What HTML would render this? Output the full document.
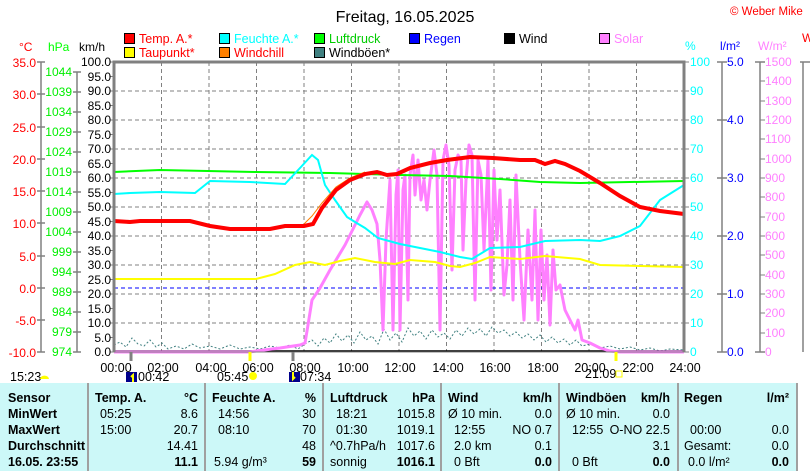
<!DOCTYPE html>
<html><head><meta charset="utf-8"><style>
body{margin:0;width:810px;height:471px;overflow:hidden;background:#fff;font-family:"Liberation Sans",sans-serif;position:relative}
.t{position:absolute;font-size:12.5px;white-space:nowrap;line-height:14px}
.b{font-weight:bold}
.r{text-align:right}
</style></head><body>
<svg width="810" height="471" style="position:absolute;left:0;top:0" font-family="Liberation Sans, sans-serif">
<text x="405" y="22" font-size="16" text-anchor="middle">Freitag, 16.05.2025</text>
<text x="730" y="15" font-size="11.5" fill="#f00">© Weber Mike</text>
<!-- legend -->
<g font-size="12.5" stroke="#000" stroke-width="1">
<rect x="124.5" y="33.5" width="10" height="10" fill="#f00"/><rect x="124.5" y="47.5" width="10" height="10" fill="#ff0"/>
<rect x="219.5" y="33.5" width="10" height="10" fill="#0ff"/><rect x="219.5" y="47.5" width="10" height="10" fill="#ff8000"/>
<rect x="314.5" y="33.5" width="10" height="10" fill="#0f0"/><rect x="314.5" y="47.5" width="10" height="10" fill="#408080"/>
<rect x="409.5" y="33.5" width="10" height="10" fill="#00f"/>
<rect x="504.5" y="33.5" width="10" height="10" fill="#000"/>
<rect x="599.5" y="33.5" width="10" height="10" fill="#ff80ff"/>
</g>
<g font-size="12.5" stroke="none">
<text x="139" y="43" fill="#f00">Temp. A.*</text><text x="139" y="57" fill="#f00">Taupunkt*</text>
<text x="234" y="43" fill="#0ff">Feuchte A.*</text><text x="234" y="57" fill="#f00">Windchill</text>
<text x="329" y="43" fill="#0c0">Luftdruck</text><text x="329" y="57" fill="#000">Windböen*</text>
<text x="424" y="43" fill="#00f">Regen</text>
<text x="519" y="43" fill="#000">Wind</text>
<text x="614" y="43" fill="#ff80ff">Solar</text>
</g>
<!-- units -->
<g font-size="12">
<text x="19" y="51" fill="#f00">°C</text><text x="48" y="51" fill="#0f0">hPa</text><text x="79" y="51" fill="#000">km/h</text>
<text x="685" y="50" fill="#0ff">%</text><text x="720" y="50" fill="#00f">l/m²</text><text x="758" y="50" fill="#ff80ff">W/m²</text><text x="802" y="42" fill="#f00">W</text>
</g>
<!-- grid -->
<g stroke="#808080" stroke-dasharray="4,3" stroke-width="1">
<path d="M114 91H684M114 120H684M114 149H684M114 178H684M114 207H684M114 236H684M114 265H684M114 294H684M114 323H684"/>
<path d="M161.5 62V352M209 62V352M256.5 62V352M304 62V352M351.5 62V352M399 62V352M446.5 62V352M494 62V352M541.5 62V352M589 62V352M636.5 62V352"/>
</g>
<!-- left axes -->
<g stroke="#808080" stroke-width="1.5" fill="none">
<path d="M41 62V352M37 62H45M37 94H45M37 127H45M37 159H45M37 191H45M37 223H45M37 256H45M37 288H45M37 320H45M37 352H45"/>
<path d="M77 72V352M73 72H81M73 92H81M73 112H81M73 132H81M73 152H81M73 172H81M73 192H81M73 212H81M73 232H81M73 252H81M73 272H81M73 292H81M73 312H81M73 332H81M73 352H81"/>
<path d="M722 62V352M717 62H727M717 120H727M717 178H727M717 236H727M717 294H727M717 352H727"/>
<path d="M760 62V352M755 62H765M755 352H765"/>
<path d="M803 62V352M800 62H810"/>
</g>
<g stroke="#808080" stroke-width="1">
<path d="M760 81H765M760 101H765M760 120H765M760 139H765M760 159H765M760 178H765M760 197H765M760 217H765M760 236H765M760 255H765M760 275H765M760 294H765M760 313H765M760 333H765"/>
<path d="M110 62H114M110 76.5H114M110 91H114M110 105.5H114M110 120H114M110 134.5H114M110 149H114M110 163.5H114M110 178H114M110 192.5H114M110 207H114M110 221.5H114M110 236H114M110 250.5H114M110 265H114M110 279.5H114M110 294H114M110 308.5H114M110 323H114M110 337.5H114M110 352H114"/>
<path d="M684 62H689M684 91H689M684 120H689M684 149H689M684 178H689M684 207H689M684 236H689M684 265H689M684 294H689M684 323H689M684 352H689"/>
</g>
<g font-size="12" fill="#f00" text-anchor="end">
<text x="36" y="67">35.0</text><text x="36" y="99">30.0</text><text x="36" y="132">25.0</text><text x="36" y="164">20.0</text><text x="36" y="196">15.0</text><text x="36" y="228">10.0</text><text x="36" y="261">5.0</text><text x="36" y="293">0.0</text><text x="36" y="325">-5.0</text><text x="36" y="357">-10.0</text>
</g>
<g font-size="12" fill="#0e0" text-anchor="end">
<text x="72" y="76">1044</text><text x="72" y="96">1039</text><text x="72" y="116">1034</text><text x="72" y="136">1029</text><text x="72" y="156">1024</text><text x="72" y="176">1019</text><text x="72" y="196">1014</text><text x="72" y="216">1009</text><text x="72" y="236">1004</text><text x="72" y="256">999</text><text x="72" y="276">994</text><text x="72" y="296">989</text><text x="72" y="316">984</text><text x="72" y="336">979</text><text x="72" y="356">974</text>
</g>
<g font-size="12" fill="#000" text-anchor="end">
<text x="111" y="66">100.0</text><text x="111" y="81">95.0</text><text x="111" y="95">90.0</text><text x="111" y="110">85.0</text><text x="111" y="124">80.0</text><text x="111" y="139">75.0</text><text x="111" y="153">70.0</text><text x="111" y="168">65.0</text><text x="111" y="182">60.0</text><text x="111" y="197">55.0</text><text x="111" y="211">50.0</text><text x="111" y="226">45.0</text><text x="111" y="240">40.0</text><text x="111" y="255">35.0</text><text x="111" y="269">30.0</text><text x="111" y="284">25.0</text><text x="111" y="298">20.0</text><text x="111" y="313">15.0</text><text x="111" y="327">10.0</text><text x="111" y="342">5.0</text><text x="111" y="356">0.0</text>
</g>
<g font-size="12" fill="#0ff">
<text x="690" y="66">100</text><text x="690" y="95">90</text><text x="690" y="124">80</text><text x="690" y="153">70</text><text x="690" y="182">60</text><text x="690" y="211">50</text><text x="690" y="240">40</text><text x="690" y="269">30</text><text x="690" y="298">20</text><text x="690" y="327">10</text><text x="690" y="356">0</text>
</g>
<g font-size="12" fill="#00f">
<text x="727" y="66">5.0</text><text x="727" y="124">4.0</text><text x="727" y="182">3.0</text><text x="727" y="240">2.0</text><text x="727" y="298">1.0</text><text x="727" y="356">0.0</text>
</g>
<g font-size="12" fill="#ff80ff">
<text x="765" y="66">1500</text><text x="765" y="85">1400</text><text x="765" y="105">1300</text><text x="765" y="124">1200</text><text x="765" y="143">1100</text><text x="765" y="163">1000</text><text x="765" y="182">900</text><text x="765" y="201">800</text><text x="765" y="221">700</text><text x="765" y="240">600</text><text x="765" y="259">500</text><text x="765" y="279">400</text><text x="765" y="298">300</text><text x="765" y="317">200</text><text x="765" y="337">100</text><text x="765" y="356">0</text>
</g>
<!-- series -->
<path d="M114 288H684" stroke="#00f" stroke-dasharray="4,3" stroke-width="1"/>
<polyline fill="none" stroke="#408080" stroke-width="1" stroke-dasharray="2,2" points="114,345 120,342 126,347 132,338 138,344 144,346 150,340 156,347 162,343 168,349 176,346 184,349 192,344 200,348 210,346 220,349 230,345 240,349 250,347 260,349 270,346 280,348 290,345 298,349 305,344 312,340 318,346 324,338 330,343 336,334 342,341 348,335 354,343 360,332 366,340 372,336 378,344 384,329 390,340 396,333 402,342 408,328 414,336 420,331 426,339 432,330 438,337 444,333 450,339 456,330 462,336 468,328 474,334 480,329 486,336 492,327 498,333 504,330 510,336 516,332 522,338 528,334 534,340 540,335 546,342 552,337 558,343 564,339 570,345 576,340 582,346 590,344 600,348 610,346 620,349 630,347 640,350 650,348 660,351 670,349 684,350"/>
<polyline fill="none" stroke="#000" stroke-width="1.5" points="114,351 684,351"/>
<polyline fill="none" stroke="#ff80ff" stroke-width="3" stroke-linejoin="round" points="114,352 250,352 256,351 280,348 300,345 305,343 308,325 312,300 320,288 330,270 345,245 360,215 367,202 372,210 377,224 380,260 383,330 386,240 390,180 393,330 396,195 398,170 400,330 403,190 405,175 408,300 410,175 413,155 415,195 418,160 421,200 424,180 427,210 430,180 434,150 437,175 440,330 443,160 446,145 449,165 452,270 455,170 458,155 461,160 463,250 466,180 469,145 472,155 475,300 478,160 481,175 484,250 488,160 491,290 494,170 497,240 500,190 504,295 507,265 510,200 513,300 516,175 520,260 524,320 528,230 532,300 535,210 538,320 541,230 544,300 547,255 550,325 553,250 556,290 560,285 565,310 570,320 575,330 578,320 582,340 590,343 600,348 610,351 620,352 684,352"/>
<polyline fill="none" stroke="#ff0" stroke-width="2" points="114,279 200,279 256,279 275,274 295,265 310,262 325,265 340,261 355,258 375,262 395,264 410,260 435,262 450,266 460,267 475,263 490,257 520,259 545,256 580,259 600,265 684,267"/>
<polyline fill="none" stroke="#0f0" stroke-width="2" points="114,172 160,170 256,172 330,173 400,175 450,176 500,179 540,182 580,183 684,181"/>
<polyline fill="none" stroke="#0ff" stroke-width="2" points="114,194 130,193 160,192 195,193 210,181 250,182 285,184 300,168 312,155 318,160 325,185 335,200 347,217 355,222 365,228 378,238 400,244 420,248 440,252 460,257 472,259 490,248 520,247 545,241 580,240 600,241 620,236 640,226 660,200 684,185"/>
<polyline fill="none" stroke="#ff8000" stroke-width="1" points="304,224 312,216 322,203 336,187 350,178 365,172"/>
<polyline fill="none" stroke="#f00" stroke-width="4" points="114,221 130,222 140,221 190,221 210,226 230,229 270,229 285,226 304,226 313,224 322,208 336,190 350,180 365,174 377,172 387,175 397,174 410,168 430,163 447,160 470,157 493,158 520,160 535,160 545,164 555,161 565,164 580,171 600,183 620,196 640,207 660,211 684,214"/>
<!-- frame -->
<path d="M114 352V62H684V352" fill="none" stroke="#808080" stroke-width="3"/>
<path d="M114 352H684" stroke="#808080" stroke-width="1"/>
<!-- ticks below -->
<path d="M131 352V361M293 352V361" stroke="#808080" stroke-width="3"/>
<path d="M250 352V361M616 352V361" stroke="#ff0" stroke-width="3"/>
<g font-size="12.5" text-anchor="middle">
<text x="116" y="372">00:00</text><text x="163" y="372">02:00</text><text x="211" y="372">04:00</text><text x="258" y="372">06:00</text><text x="305" y="372">08:00</text><text x="353" y="372">10:00</text><text x="400" y="372">12:00</text><text x="448" y="372">14:00</text><text x="495" y="372">16:00</text><text x="543" y="372">18:00</text><text x="590" y="372">20:00</text><text x="638" y="372">22:00</text><text x="685" y="372">24:00</text>
</g>
<g font-size="12.5">
<text x="10" y="381">15:23</text><text x="138" y="381">00:42</text><text x="217" y="381">05:45</text><text x="300" y="381">07:34</text><text x="585" y="378">21:09</text>
</g>
<path d="M40 379a4 3 0 0 1 9 0z" fill="#ff0"/>
<rect x="126" y="372" width="11" height="10" fill="#00008b"/><path d="M133 382V375l-2 2" stroke="#ff0" stroke-width="2" fill="none"/>
<circle cx="253" cy="376" r="4" fill="#ff0"/>
<rect x="289" y="372" width="11" height="10" fill="#00008b"/><path d="M293 372V379l2-2" stroke="#ff0" stroke-width="2" fill="none"/>
<rect x="616" y="371" width="6" height="6" fill="none" stroke="#ff0"/>
<!-- table -->
<rect x="0" y="383" width="797" height="88" fill="#ccf8f8"/>
<rect x="800" y="383" width="10" height="88" fill="#fff"/>
<g stroke="#a0a0a0" stroke-width="2">
<path d="M88 383V471M205 383V471M323 383V471M441 383V471M559 383V471M678 383V471M797 383V471"/>
</g>
</svg>
<div class="t b" style="left:8px;top:391px">Sensor</div>
<div class="t b" style="left:8px;top:407px">MinWert</div>
<div class="t b" style="left:8px;top:423px">MaxWert</div>
<div class="t b" style="left:8px;top:439px">Durchschnitt</div>
<div class="t b" style="left:8px;top:455px">16.05. 23:55</div>

<div class="t b" style="left:95px;top:391px">Temp. A.</div><div class="t b r" style="left:150px;width:48px;top:391px">°C</div>
<div class="t" style="left:100px;top:407px">05:25</div><div class="t r" style="left:150px;width:48px;top:407px">8.6</div>
<div class="t" style="left:100px;top:423px">15:00</div><div class="t r" style="left:150px;width:48px;top:423px">20.7</div>
<div class="t r" style="left:150px;width:48px;top:439px">14.41</div>
<div class="t b r" style="left:150px;width:48px;top:455px">11.1</div>

<div class="t b" style="left:212px;top:391px">Feuchte A.</div><div class="t b r" style="left:270px;width:46px;top:391px">%</div>
<div class="t" style="left:218px;top:407px">14:56</div><div class="t r" style="left:270px;width:46px;top:407px">30</div>
<div class="t" style="left:218px;top:423px">08:10</div><div class="t r" style="left:270px;width:46px;top:423px">70</div>
<div class="t r" style="left:270px;width:46px;top:439px">48</div>
<div class="t" style="left:214px;top:455px">5.94 g/m³</div><div class="t b r" style="left:270px;width:46px;top:455px">59</div>

<div class="t b" style="left:330px;top:391px">Luftdruck</div><div class="t b r" style="left:385px;width:50px;top:391px">hPa</div>
<div class="t" style="left:336px;top:407px">18:21</div><div class="t r" style="left:385px;width:50px;top:407px">1015.8</div>
<div class="t" style="left:336px;top:423px">01:30</div><div class="t r" style="left:385px;width:50px;top:423px">1019.1</div>
<div class="t" style="left:330px;top:439px">^0.7hPa/h</div><div class="t r" style="left:385px;width:50px;top:439px">1017.6</div>
<div class="t" style="left:330px;top:455px">sonnig</div><div class="t b r" style="left:385px;width:50px;top:455px">1016.1</div>

<div class="t b" style="left:448px;top:391px">Wind</div><div class="t b r" style="left:500px;width:52px;top:391px">km/h</div>
<div class="t" style="left:448px;top:407px">Ø 10 min.</div><div class="t r" style="left:500px;width:52px;top:407px">0.0</div>
<div class="t" style="left:454px;top:423px">12:55</div><div class="t r" style="left:500px;width:52px;top:423px">NO 0.7</div>
<div class="t" style="left:454px;top:439px">2.0 km</div><div class="t r" style="left:500px;width:52px;top:439px">0.1</div>
<div class="t" style="left:454px;top:455px">0 Bft</div><div class="t b r" style="left:500px;width:52px;top:455px">0.0</div>

<div class="t b" style="left:566px;top:391px">Windböen</div><div class="t b r" style="left:618px;width:52px;top:391px">km/h</div>
<div class="t" style="left:566px;top:407px">Ø 10 min.</div><div class="t r" style="left:618px;width:52px;top:407px">0.0</div>
<div class="t" style="left:572px;top:423px">12:55</div><div class="t r" style="left:600px;width:70px;top:423px">O-NO 22.5</div>
<div class="t r" style="left:618px;width:52px;top:439px">3.1</div>
<div class="t" style="left:572px;top:455px">0 Bft</div><div class="t b r" style="left:618px;width:52px;top:455px">0.0</div>

<div class="t b" style="left:684px;top:391px">Regen</div><div class="t b r" style="left:740px;width:49px;top:391px">l/m²</div>
<div class="t" style="left:690px;top:423px">00:00</div><div class="t r" style="left:740px;width:49px;top:423px">0.0</div>
<div class="t" style="left:684px;top:439px">Gesamt:</div><div class="t r" style="left:740px;width:49px;top:439px">0.0</div>
<div class="t" style="left:688px;top:455px">0.0 l/m²</div><div class="t b r" style="left:740px;width:49px;top:455px">0.0</div>
</body></html>
